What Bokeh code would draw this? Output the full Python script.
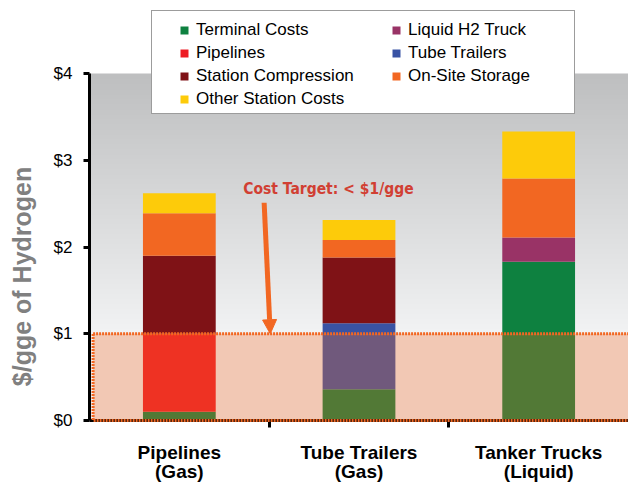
import numpy as np
from bokeh.plotting import figure
from bokeh.models import (Range1d, FixedTicker, NumeralTickFormatter, Legend, LegendItem,
                          Arrow, NormalHead, Label, ColumnDataSource)
from bokeh.embed import file_html
from bokeh.resources import INLINE

# Delivery pathways and their cost components ($/gge)
categories = ["Pipelines\n(Gas)", "Tube Trailers\n(Gas)", "Tanker Trucks\n(Liquid)"]
terminal_costs = [0.10, 0.36, 1.83]
pipelines = [0.90, 0.00, 0.00]
liquid_h2_truck = [0.00, 0.00, 0.28]
tube_trailers = [0.00, 0.76, 0.00]
station_compression = [0.90, 0.76, 0.00]
on_site_storage = [0.49, 0.20, 0.68]
other_station_costs = [0.23, 0.23, 0.54]
y_ticks = [0, 1, 2, 3, 4]
cost_target = 1.0
target_text = "Cost Target: < $1/gge"
y_title = "$/gge of Hydrogen"

series = [
    ("Terminal Costs", terminal_costs, "#0E8140"),
    ("Pipelines", pipelines, "#ED1C24"),
    ("Liquid H2 Truck", liquid_h2_truck, "#993366"),
    ("Tube Trailers", tube_trailers, "#3953A4"),
    ("Station Compression", station_compression, "#7F1216"),
    ("On-Site Storage", on_site_storage, "#F26722"),
    ("Other Station Costs", other_station_costs, "#FDCB0A"),
]
ORANGE = "#F26722"

x_pos = [i + 0.5 for i in range(len(categories))]
data = {"x": x_pos}
for name, vals, _ in series:
    data[name] = vals
source = ColumnDataSource(data)

# the frame reaches the top of the canvas so the legend can sit above the $4 line
y_top = y_ticks[-1] + 73 / 86.75
p = figure(width=628, height=492, x_range=Range1d(0, len(categories)),
           y_range=Range1d(y_ticks[0], y_top),
           output_backend="svg", toolbar_location=None,
           min_border_left=89, min_border_right=0, min_border_top=0, min_border_bottom=72)
p.outline_line_color = None
p.grid.visible = False

# vertical grey-to-white backdrop, flat below the target line
n = 400
yy = np.linspace(0, y_ticks[-1], n)
shade = np.where(yy < cost_target, 242.0,
                 242.0 - (yy - cost_target) / (y_ticks[-1] - cost_target) * 52.0)
img = np.empty((n, 1), dtype=np.uint32)
view = img.view(dtype=np.uint8).reshape((n, 1, 4))
view[:, 0, 0] = shade.astype(np.uint8)
view[:, 0, 1] = np.minimum(shade + 1, 255).astype(np.uint8)
view[:, 0, 2] = np.minimum(shade + 2, 255).astype(np.uint8)
view[:, 0, 3] = 255
p.image_rgba(image=[img], x=0, y=0, dw=len(categories), dh=y_ticks[-1])

bars = p.vbar_stack([s[0] for s in series], x="x", width=0.405,
                    fill_color=[s[2] for s in series], line_color=None, source=source)
by_name = {s[0]: r for s, r in zip(series, bars)}

# target band
p.quad(left=0.02, right=len(categories), bottom=0, top=cost_target,
       fill_color=ORANGE, fill_alpha=0.3, line_color=None)
p.quad(left=0.02, right=len(categories) + 0.05, bottom=0, top=cost_target,
       fill_color=None, line_color=ORANGE, line_width=3, line_dash="2 1", level="overlay")

p.add_layout(Arrow(end=NormalHead(size=14, fill_color=ORANGE, line_color=ORANGE),
                   x_start=0.972, y_start=2.51, x_end=1.006, y_end=cost_target,
                   line_color=ORANGE, line_width=5))
p.add_layout(Label(x=1.33, y=2.67, text=target_text, text_align="center",
                   text_baseline="middle", text_font="DejaVu Sans Condensed",
                   text_font_style="bold",
                   text_font_size="15.5px", text_color="#D13F33"))

# axes
xa = p.xaxis[0]
xa.ticker = FixedTicker(ticks=x_pos, minor_ticks=[1, 2])
xa.major_label_overrides = {x: c for x, c in zip(x_pos, categories)}
xa.major_tick_out = 0
xa.major_tick_in = 0
xa.minor_tick_out = 7
xa.minor_tick_in = 0
xa.minor_tick_line_width = 3
xa.minor_tick_line_color = "black"
xa.axis_line_width = 3
xa.axis_line_color = "black"
xa.major_label_standoff = 14
xa.major_label_text_font = "Liberation Sans"
xa.major_label_text_font_style = "bold"
xa.major_label_text_font_size = "19px"
xa.major_label_text_color = "black"
xa.major_label_text_line_height = 0.95

ya = p.yaxis[0]
ya.bounds = (y_ticks[0], y_ticks[-1])
ya.ticker = FixedTicker(ticks=y_ticks, minor_ticks=[])
ya.formatter = NumeralTickFormatter(format="$0")
ya.major_tick_out = 6
ya.major_tick_in = 0
ya.major_tick_line_width = 3
ya.major_tick_line_color = "black"
ya.minor_tick_out = 0
ya.minor_tick_in = 0
ya.axis_line_width = 3
ya.axis_line_color = "black"
ya.major_label_standoff = 11
ya.major_label_text_font = "Liberation Sans"
ya.major_label_text_font_size = "17px"
ya.major_label_text_color = "black"
# trailing no-break spaces lower the centred title towards the middle of the $0-$4 span
ya.axis_label = y_title + "\u00a0" * 19
ya.axis_label_text_font = "Liberation Sans"
ya.axis_label_text_font_style = "bold"
ya.axis_label_text_font_size = "25px"
ya.axis_label_text_color = "#808080"
ya.axis_label_standoff = 15

# legend frame (location = bottom-left corner relative to the plot frame)
dummy = p.scatter(x=[], y=[], size=0, fill_alpha=0, line_alpha=0)
frame_legend = Legend(items=[LegendItem(label=" ", renderers=[dummy])],
                      location=(62, 306), margin=0, padding=0, spacing=0,
                      glyph_width=1, glyph_height=1, label_standoff=0,
                      label_width=421, label_height=102, label_text_font_size="1px",
                      border_line_color="#3a3a3a", border_line_width=1,
                      background_fill_color="white", background_fill_alpha=1)
p.add_layout(frame_legend)

legend_order = ["Terminal Costs", "Pipelines", "Station Compression", "Other Station Costs",
                "Liquid H2 Truck", "Tube Trailers", "On-Site Storage"]
legend = Legend(items=[LegendItem(label=nm, renderers=[by_name[nm]]) for nm in legend_order],
                location=(90, 311), margin=0, padding=0, spacing=3,
                orientation="vertical", nrows=4,
                glyph_width=10, glyph_height=10, label_standoff=7,
                label_width=192, label_height=20,
                label_text_font="Liberation Sans", label_text_font_size="17px",
                label_text_color="black",
                border_line_color=None, background_fill_alpha=0)
p.add_layout(legend)

open("out.html", "w").write(file_html(p, INLINE))
